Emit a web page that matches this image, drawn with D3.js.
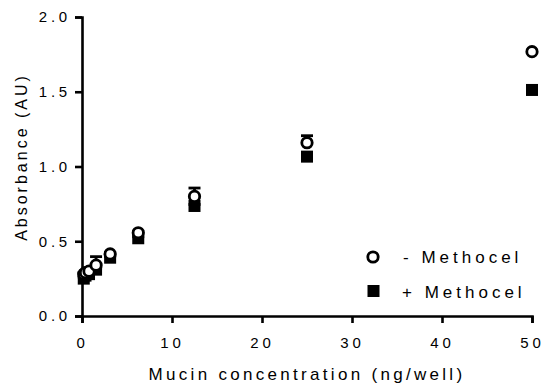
<!DOCTYPE html>
<html>
<head>
<meta charset="utf-8">
<script src="https://cdn.jsdelivr.net/npm/d3@7"></script>
<style>
  body { margin: 0; background: #fff; }
  text { font-family: "Liberation Sans", Arial, sans-serif; fill: #000; }
</style>
</head>
<body>
<div id="chart"></div>
<script>
// mucin dilution series (ng/well)
const conc = [0.195, 0.39, 0.78, 1.5625, 3.125, 6.25, 12.5, 25, 50];
const minusMethocel = [0.28, 0.29, 0.30, 0.34, 0.415, 0.557, 0.80, 1.159, 1.768];
const minusErr = [0.01, 0.01, 0.02, 0.057, 0.01, 0.01, 0.056, 0.047, 0.01];
const plusMethocel = [0.25, 0.27, 0.28, 0.31, 0.39, 0.52, 0.736, 1.066, 1.512];
const plusErr = [0.01, 0.01, 0.01, 0.01, 0.01, 0.01, 0.01, 0.01, 0.01];
const xTicks = [0, 10, 20, 30, 40, 50];
const yTicks = [0, 0.5, 1.0, 1.5, 2.0];

const width = 542, height = 390;
const margin = { top: 17, right: 10, bottom: 74, left: 82 };

const svg = d3.select("#chart")
  .append("svg")
  .attr("width", width)
  .attr("height", height);

const x = d3.scaleLinear().domain([0, 50]).range([margin.left, 532]);
const y = d3.scaleLinear().domain([0, 2]).range([316, margin.top]);

const xAxis = svg.append("g")
  .attr("transform", `translate(0,${y(0)})`)
  .call(d3.axisBottom(x).tickValues(xTicks).tickFormat(d3.format("d")).tickSize(7).tickPadding(14));

const yAxis = svg.append("g")
  .attr("transform", `translate(${x(0)},0)`)
  .call(d3.axisLeft(y).tickValues(yTicks).tickFormat(d3.format(".1f")).tickSize(7).tickPadding(4));

[xAxis, yAxis].forEach(g => {
  g.select(".domain").attr("stroke-width", 2.6).attr("stroke", "#000");
  g.selectAll(".tick line").attr("stroke-width", 2.6).attr("stroke", "#000");
  g.selectAll(".tick text")
    .attr("font-size", 15)
    .attr("letter-spacing", 3.8)
    .style("font-family", "'Liberation Sans', Arial, sans-serif")
    .attr("fill", "#000");
});

// axis titles
svg.append("text")
  .attr("x", 307)
  .attr("y", 380)
  .attr("text-anchor", "middle")
  .attr("font-size", 17)
  .attr("letter-spacing", 3.3)
  .text("Mucin concentration (ng/well)");

svg.append("text")
  .attr("transform", `translate(27,${157}) rotate(-90)`)
  .attr("text-anchor", "middle")
  .attr("font-size", 16)
  .attr("letter-spacing", 3)
  .text("Absorbance (AU)");

const capW = 12;

// error bars (upper only) for + Methocel, then squares
const plus = conc.map((c, i) => ({ c, v: plusMethocel[i], e: plusErr[i] }));
const minus = conc.map((c, i) => ({ c, v: minusMethocel[i], e: minusErr[i] }));

function errBars(data) {
  const g = svg.append("g").attr("stroke", "#000").attr("stroke-width", 2.8);
  g.selectAll(".v").data(data).enter().append("line")
    .attr("x1", d => x(d.c)).attr("x2", d => x(d.c))
    .attr("y1", d => y(d.v)).attr("y2", d => y(d.v + d.e));
  g.selectAll(".cap").data(data).enter().append("line")
    .attr("x1", d => x(d.c) - capW / 2).attr("x2", d => x(d.c) + capW / 2)
    .attr("y1", d => y(d.v + d.e)).attr("y2", d => y(d.v + d.e));
}

errBars(plus);
svg.append("g").selectAll("rect").data(plus).enter().append("rect")
  .attr("x", d => x(d.c) - 6)
  .attr("y", d => y(d.v) - 6)
  .attr("width", 12)
  .attr("height", 12)
  .attr("fill", "#000");

errBars(minus);
svg.append("g").selectAll("circle").data(minus).enter().append("circle")
  .attr("cx", d => x(d.c))
  .attr("cy", d => y(d.v))
  .attr("r", 5.2)
  .attr("fill", "#fff")
  .attr("stroke", "#000")
  .attr("stroke-width", 2.8);

// legend
const legend = svg.append("g");
legend.append("circle")
  .attr("cx", 373).attr("cy", 257).attr("r", 5.2)
  .attr("fill", "#fff").attr("stroke", "#000").attr("stroke-width", 2.8);
legend.append("text")
  .attr("x", 403).attr("y", 263)
  .attr("font-size", 17).attr("letter-spacing", 4)
  .text("- Methocel");
legend.append("rect")
  .attr("x", 367.5).attr("y", 285).attr("width", 12).attr("height", 12)
  .attr("fill", "#000");
legend.append("text")
  .attr("x", 402).attr("y", 298)
  .attr("font-size", 17).attr("letter-spacing", 4)
  .text("+ Methocel");
</script>
</body>
</html>
